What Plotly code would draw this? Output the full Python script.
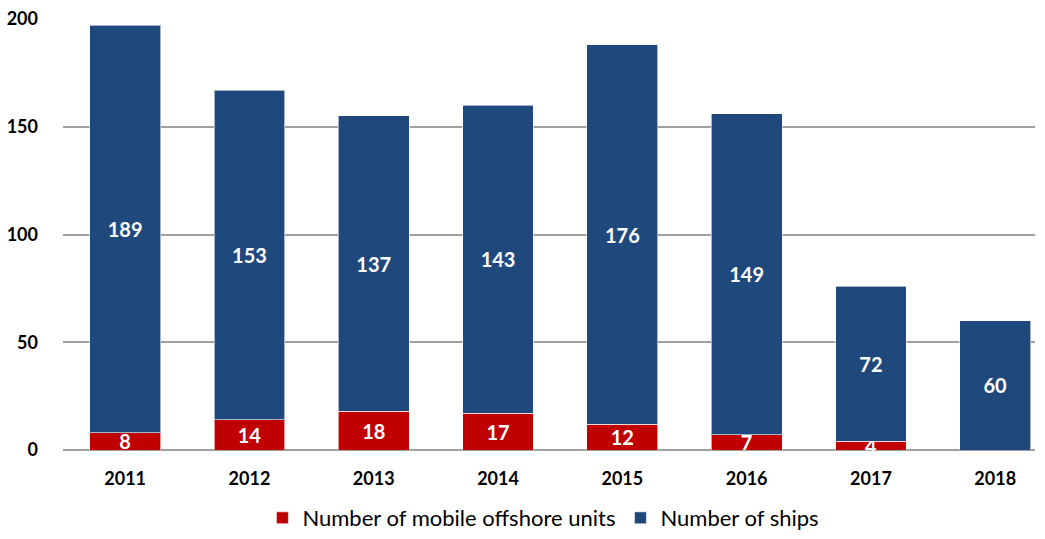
import plotly.graph_objects as go

years = ["2011", "2012", "2013", "2014", "2015", "2016", "2017", "2018"]
mobile_units = [8, 14, 18, 17, 12, 7, 4, 0]
ships = [189, 153, 137, 143, 176, 149, 72, 60]

red = "#C00000"
blue = "#1F497D"
fam = "Lato, Open Sans, sans-serif"

fig = go.Figure()
fig.add_trace(go.Bar(
    x=years, y=mobile_units, name="Number of mobile offshore units",
    marker=dict(color=red, line=dict(color="rgba(255,255,255,0.6)", width=1)),
    text=[str(v) if v > 0 else "" for v in mobile_units],
    textposition="inside", insidetextanchor="middle", constraintext="none", textangle=0,
    cliponaxis=False,
    textfont=dict(family=fam, size=20, color="white", weight="bold"),
))
fig.add_trace(go.Bar(
    x=years, y=ships, name="Number of ships",
    marker=dict(color=blue, line=dict(color="rgba(255,255,255,0.6)", width=1)),
    text=[str(v) for v in ships],
    textposition="inside", insidetextanchor="middle", constraintext="none", textangle=0,
    textfont=dict(family=fam, size=20, color="white", weight="bold"),
))

fig.update_layout(
    barmode="stack",
    bargap=0.43,
    width=1045, height=539,
    margin=dict(l=63, r=10, t=19, b=89, autoexpand=False),
    plot_bgcolor="white", paper_bgcolor="white",
    font=dict(family=fam, color="black"),
    legend=dict(orientation="h", x=0.52, xanchor="center", xref="container",
                y=0.0, yanchor="bottom", yref="container",
                font=dict(size=22), traceorder="normal", itemwidth=30),
    xaxis=dict(range=[-0.5, 7.32], showgrid=False, showline=False, ticks="",
               tickfont=dict(size=18, weight="bold"), ticklabelstandoff=16),
    yaxis=dict(range=[0, 200], tickvals=[0, 50, 100, 150, 200], showgrid=True,
               gridcolor="#A0A0A0", gridwidth=2, zeroline=True, zerolinecolor="#A0A0A0",
               zerolinewidth=2, tickfont=dict(size=18, weight="bold"), ticks="",
               ticklabelstandoff=24),
)

fig.write_html("out.html", config={"displayModeBar": False},
               post_script="document.body.style.margin='0';document.body.style.overflow='hidden';")
